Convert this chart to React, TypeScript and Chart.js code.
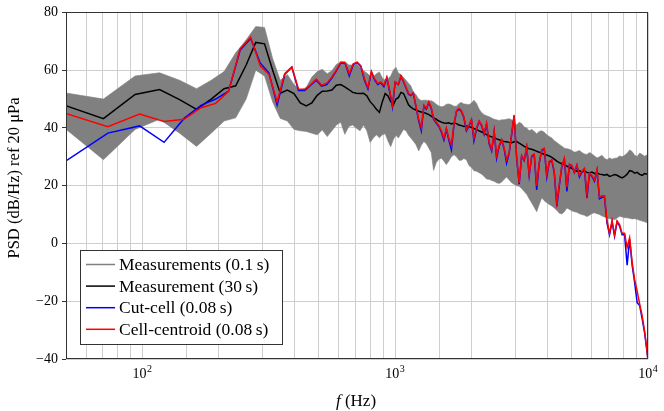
import { useEffect, useRef } from 'react'
import Chart from 'chart.js/auto'

// PSD spectrum: measurement band (0.1 s), 30 s measurement, cut-cell and cell-centroid runs

// measurement bins (Hz), below 1 kHz
const freqMeasLow = [
  46.9, 70.3, 93.8, 117.2, 140.6, 164.1, 187.5, 210.9, 234.4, 257.8,
  281.3, 304.7, 328.1, 351.6, 375.0, 398.4, 421.9, 445.3, 468.8, 492.2,
  515.6, 539.1, 562.5, 585.9, 609.4, 632.8, 656.3, 679.7, 703.1, 726.6,
  750.0, 773.4, 796.9, 820.3, 843.8, 867.2, 890.6, 914.1, 937.5, 960.9,
  984.4, 1007.8,
]
// simulation bins (Hz), below 1 kHz
const freqSimLow = [
  48.8, 73.2, 97.7, 122.1, 146.5, 170.9, 195.3, 219.7, 244.1, 268.6,
  293.0, 317.4, 341.8, 366.2, 390.6, 415.0, 439.5, 463.9, 488.3, 512.7,
  537.1, 561.5, 585.9, 610.4, 634.8, 659.2, 683.6, 708.0, 732.4, 756.8,
  781.3, 805.7, 830.1, 854.5, 878.9, 903.3, 927.7, 952.1, 976.6, 1001.0,
]
// shared bins above 1 kHz
const freqHigh = [
  1030, 1055, 1080, 1105, 1130, 1155, 1180, 1210, 1240, 1270,
  1300, 1330, 1360, 1390, 1420, 1455, 1490, 1525, 1560, 1595,
  1630, 1670, 1710, 1750, 1790, 1830, 1870, 1915, 1960, 2005,
  2050, 2100, 2150, 2200, 2250, 2300, 2355, 2410, 2465, 2520,
  2580, 2640, 2700, 2760, 2825, 2890, 2955, 3025, 3095, 3165,
  3240, 3315, 3390, 3470, 3550, 3630, 3715, 3800, 3890, 3980,
  4070, 4165, 4260, 4360, 4460, 4565, 4670, 4780, 4890, 5000,
  5115, 5235, 5355, 5480, 5605, 5735, 5870, 6005, 6145, 6285,
  6430, 6580, 6730, 6885, 7045, 7210, 7375, 7545, 7720, 7900,
  8080, 8270, 8460, 8655, 8855, 9060, 9270, 9480, 9700, 9925,
  10000,
]

// Measurements (0.1 s) — upper / lower envelope
const bandHiLow = [
  52.5, 50.0, 58.0, 59.1, 56.5, 53.6, 56.5, 59.5, 66.0, 70.5,
  75.1, 74.8, 64.0, 56.5, 58.5, 55.0, 53.1, 54.0, 57.6, 59.5,
  60.3, 58.8, 59.8, 62.0, 62.8, 63.0, 61.8, 61.8, 62.2, 61.0,
  59.8, 59.0, 58.0, 57.6, 58.8, 59.4, 57.3, 56.5, 57.0, 58.0,
  60.0, 61.0,
]
const bandHiHigh = [
  59.0, 58.5, 57.5, 56.5, 55.5, 54.5, 52.5, 51.5, 50.0, 49.5,
  49.6, 49.6, 49.3, 49.4, 49.0, 48.2, 47.6, 47.3, 47.5, 48.2,
  48.3, 48.0, 47.5, 47.5, 48.5, 48.8, 48.3, 48.2, 48.0, 48.6,
  49.6, 48.5, 46.5, 45.3, 44.6, 44.2, 43.9, 43.4, 43.0, 42.8,
  42.6, 42.8, 42.8, 43.0, 43.2, 42.8, 42.0, 41.0, 42.0, 41.5,
  40.3, 40.0, 39.0, 39.5, 38.8, 38.0, 38.8, 39.0, 38.5, 37.6,
  37.0, 36.5, 35.6, 35.0, 34.3, 33.7, 33.0, 32.8, 32.6, 32.2,
  31.6, 31.8, 32.2, 31.5, 31.0, 30.8, 31.5, 31.0, 30.3, 29.6,
  30.0, 30.5, 29.5, 29.0, 29.6, 29.2, 29.5, 29.6, 30.3, 30.0,
  30.5, 31.2, 32.4, 31.8, 30.5, 30.1, 31.3, 30.8, 30.2, 30.7,
  30.7,
]
const bandLoLow = [
  41.5, 29.0, 39.5, 43.0, 38.2, 33.6, 38.2, 42.4, 43.5, 50.0,
  60.0, 58.0, 49.0, 43.3, 42.4, 39.5, 39.0, 38.8, 38.2, 37.6,
  39.3, 37.0, 39.0, 41.0, 42.0, 37.8, 40.5, 41.0, 39.9, 39.0,
  41.0, 39.0, 35.0, 36.5, 37.6, 36.6, 37.6, 38.0, 35.5, 33.5,
  36.0, 37.5,
]
const bandLoHigh = [
  36.5, 38.0, 39.5, 39.0, 37.5, 36.5, 35.5, 34.2, 32.0, 34.0,
  35.3, 34.5, 33.0, 31.5, 25.3, 28.0, 29.2, 29.5, 28.5, 27.3,
  28.5, 30.0, 30.7, 30.0, 28.8, 28.8, 29.4, 29.0, 27.0, 26.3,
  25.2, 25.0, 24.5, 24.0, 23.2, 22.3, 22.2, 21.8, 21.5, 21.0,
  20.8, 21.3, 22.2, 23.0, 22.0, 21.0, 20.5, 20.0, 19.8, 19.0,
  18.0, 17.0, 15.5, 14.0, 12.5, 11.0, 13.5, 15.8, 14.8, 14.1,
  13.5, 13.0, 12.3, 11.5, 10.5, 10.2, 11.0, 12.3, 11.8, 11.3,
  11.0, 10.8, 10.3, 10.0, 9.8, 9.3, 9.8, 10.4, 10.6, 10.3,
  10.0, 9.5, 9.2, 8.9, 8.6, 8.4, 8.2, 8.8, 9.4, 9.2,
  8.9, 8.9, 8.7, 8.5, 8.6, 8.4, 8.0, 7.8, 7.5, 7.2,
  7.2,
]

// Measurement (30 s)
const meas30Low = [
  48.5, 43.2, 51.6, 53.3, 49.8, 46.4, 50.0, 53.6, 54.6, 61.8,
  69.6, 69.1, 60.0, 52.0, 53.1, 51.9, 48.7, 47.6, 48.7, 51.3,
  52.7, 52.8, 53.1, 54.8, 55.0, 54.2, 53.3, 52.3, 52.0, 51.9,
  52.0, 51.1, 49.1, 47.9, 46.5, 45.4, 49.1, 51.9, 51.1, 49.1,
  47.9, 50.0,
]
const meas30High = [
  50.5, 52.3, 51.9, 50.0, 48.0, 47.2, 46.6, 46.2, 45.8, 45.5,
  45.3, 45.0, 44.6, 44.1, 43.5, 43.0, 42.4, 42.0, 41.7, 41.6,
  41.8, 41.4, 41.7, 41.5, 41.0, 40.8, 40.5, 40.7, 40.4, 40.2,
  39.8, 39.4, 39.0, 38.6, 38.1, 37.7, 37.2, 36.9, 36.6, 36.2,
  35.9, 35.5, 35.3, 35.2, 35.0, 34.9, 35.2, 35.3, 34.7, 34.2,
  33.6, 33.2, 32.8, 32.6, 32.3, 31.9, 31.6, 31.3, 30.8, 30.6,
  30.3, 29.8, 29.2, 28.5, 28.0, 27.6, 27.2, 26.8, 26.3, 26.0,
  25.5, 25.0, 25.2, 24.8, 25.1, 24.6, 24.4, 24.7, 24.2, 24.5,
  24.0, 23.9, 23.6, 23.9, 23.2, 23.5, 23.9, 23.6, 23.1, 22.7,
  23.2, 24.0, 25.2, 25.0, 24.3, 24.6, 23.9, 23.6, 24.2, 24.0,
  24.3,
]

// Cut-cell (0.08 s)
const cutCellLow = [
  28.0, 38.2, 40.7, 35.0, 43.3, 47.8, 50.0, 52.7, 67.0, 71.0,
  62.5, 59.0, 48.0, 58.5, 61.0, 53.0, 53.0, 54.8, 56.5, 54.5,
  55.0, 57.2, 59.8, 62.5, 62.3, 58.0, 62.0, 62.6, 61.3, 56.5,
  53.5, 59.3, 56.6, 55.0, 55.6, 54.3, 57.3, 52.5, 47.3, 55.8,
]
const cutCellHigh = [
  55.0, 57.8, 56.0, 53.8, 51.7, 51.2, 52.0, 47.3, 42.5, 39.0,
  47.6, 46.5, 48.8, 46.7, 43.0, 41.7, 40.5, 38.5, 35.8, 39.6,
  36.0, 32.5, 41.2, 45.7, 46.5, 45.7, 43.6, 39.0, 40.7, 42.7,
  35.5, 39.7, 42.2, 40.7, 37.8, 41.3, 34.5, 32.0, 38.7, 29.5,
  33.7, 35.7, 32.7, 27.8, 31.2, 37.7, 44.2, 29.5, 20.5, 30.2,
  28.7, 33.2, 23.5, 30.2, 30.7, 18.5, 27.7, 32.2, 32.7, 23.0,
  28.2, 28.7, 24.5, 12.8, 20.0, 26.7, 29.2, 18.0, 27.2, 26.7,
  24.5, 26.9, 23.0, 24.7, 25.7, 15.8, 24.2, 23.2, 21.5, 25.3,
  15.5, 16.0, 16.0, 7.0, 3.0, 7.5, 2.5, 7.5, 6.0, 3.0,
  3.0, -7.5, 1.5, -7.5, -13.5, -20.5, -21.5, -26.0, -31.0, -38.0,
  -40.5,
]

// Cell-centroid (0.08 s)
const centroidLow = [
  45.3, 40.4, 44.8, 42.2, 43.0, 47.0, 48.5, 52.7, 67.4, 71.4,
  61.5, 58.5, 49.1, 58.8, 61.1, 53.5, 53.3, 55.0, 56.9, 54.8,
  55.5, 57.5, 60.0, 62.8, 62.5, 58.8, 62.2, 62.8, 61.5, 57.0,
  54.0, 59.6, 57.0, 55.4, 55.9, 54.8, 57.6, 53.0, 48.0, 56.0,
]
const centroidHigh = [
  55.0, 58.0, 56.2, 54.0, 51.9, 51.4, 52.2, 47.5, 43.0, 40.0,
  47.9, 46.8, 49.1, 47.0, 43.3, 42.0, 40.8, 39.0, 36.4, 39.9,
  36.5, 34.0, 41.5, 46.0, 46.8, 46.0, 43.9, 39.5, 41.0, 43.0,
  36.4, 40.0, 42.5, 41.0, 38.2, 41.6, 35.0, 32.5, 39.0, 30.5,
  34.0, 36.0, 33.0, 29.0, 31.5, 38.0, 44.5, 30.0, 21.0, 30.5,
  29.0, 33.5, 24.0, 30.5, 31.0, 20.0, 28.0, 32.5, 33.0, 24.0,
  28.5, 29.0, 25.0, 14.0, 20.5, 27.0, 29.5, 19.5, 27.5, 27.0,
  24.8, 27.2, 23.5, 25.0, 26.0, 17.2, 24.5, 23.5, 22.0, 25.6,
  16.0, 16.5, 16.5, 8.0, 3.5, 8.0, 3.0, 7.8, 6.5, 3.5,
  3.5, -1.4, 2.0, -6.5, -12.5, -16.5, -21.0, -25.0, -30.5, -37.5,
  -40.5,
]

const legendLabels = ['Measurements (0.1\u2009s)', 'Measurement (30\u2009s)', 'Cut-cell (0.08\u2009s)', 'Cell-centroid (0.08\u2009s)']
const legendColors = ['#808080', '#000000', '#0000ff', '#ff0000']
const xDecades = [2, 3, 4]

const SERIF = '"Liberation Serif", "Times New Roman", serif'

const toXY = (xs: number[], ys: number[]) => xs.map((x, i) => ({ x, y: ys[i] }))

export default function App() {
  const canvasRef = useRef<HTMLCanvasElement>(null)
  const chartRef  = useRef<Chart | null>(null)

  useEffect(() => {
    if (!canvasRef.current) return
    chartRef.current?.destroy()

    const freqMeas = [...freqMeasLow, ...freqHigh]
    const freqSim  = [...freqSimLow, ...freqHigh]

    // frame, log tick labels (10^n), axis titles, legend box
    const decorations = {
      id: 'decorations',
      afterDraw(c: any) {
        const { ctx, chartArea: a } = c
        const x = c.scales.x
        ctx.save()
        ctx.strokeStyle = '#333'; ctx.lineWidth = 1
        ctx.strokeRect(Math.round(a.left) + 0.5, Math.round(a.top) + 0.5, Math.round(a.right - a.left) - 1, Math.round(a.bottom - a.top) - 1)

        ctx.fillStyle = '#000'
        ctx.textBaseline = 'alphabetic'; ctx.textAlign = 'left'
        for (const e of xDecades) {
          const px = x.getPixelForValue(10 ** e)
          ctx.font = `14px ${SERIF}`
          const wb = ctx.measureText('10').width
          ctx.font = `10px ${SERIF}`
          const we = ctx.measureText(String(e)).width
          const x0 = px - (wb + we + 0.5) / 2
          ctx.font = `14px ${SERIF}`; ctx.fillText('10', x0, 378)
          ctx.font = `10px ${SERIF}`;  ctx.fillText(String(e), x0 + wb + 0.5, 371.5)
        }

        // x title: italic f + (Hz)
        ctx.font = `italic 17px ${SERIF}`
        const wf = ctx.measureText('f').width
        ctx.font = `17px ${SERIF}`
        const wr = ctx.measureText(' (Hz)').width
        const xs = 356 - (wf + wr) / 2
        ctx.font = `italic 17px ${SERIF}`; ctx.fillText('f', xs, 406)
        ctx.font = `17px ${SERIF}`; ctx.fillText(' (Hz)', xs + wf, 406)

        // y title
        ctx.save()
        ctx.translate(19, 178); ctx.rotate(-Math.PI / 2)
        ctx.textAlign = 'center'; ctx.font = `16.5px ${SERIF}`
        ctx.fillText('PSD (dB/Hz) ref 20 μPa', 0, 0)
        ctx.restore()

        // legend
        ctx.fillStyle = '#fff'
        ctx.fillRect(80.5, 250.5, 202, 94)
        ctx.strokeStyle = '#333'; ctx.lineWidth = 1
        ctx.strokeRect(80.5, 250.5, 202, 94)
        ctx.font = `17.5px ${SERIF}`; ctx.textBaseline = 'middle'; ctx.textAlign = 'left'
        legendLabels.forEach((label, i) => {
          const yc = 264.5 + i * 21.6
          ctx.beginPath(); ctx.moveTo(86, yc); ctx.lineTo(115, yc)
          ctx.strokeStyle = legendColors[i]; ctx.lineWidth = 1.5; ctx.stroke()
          ctx.fillStyle = '#000'; ctx.fillText(label, 119, yc + 1)
        })
        ctx.restore()
      },
    }

    const line = (label: string, data: any[], color: string, order: number) => ({
      label, data, borderColor: color, borderWidth: 1.5, pointRadius: 0,
      tension: 0, fill: false, order, clip: 0,
    })

    chartRef.current = new Chart(canvasRef.current, {
      type: 'line',
      data: {
        datasets: [
          {
            label: 'band hi', data: toXY(freqMeas, [...bandHiLow, ...bandHiHigh]),
            borderColor: '#808080', borderWidth: 0.6, backgroundColor: '#808080',
            pointRadius: 0, tension: 0, fill: '+1', order: 3, clip: 0,
          },
          {
            label: 'band lo', data: toXY(freqMeas, [...bandLoLow, ...bandLoHigh]),
            borderColor: '#808080', borderWidth: 0.6, pointRadius: 0, tension: 0, fill: false, order: 3, clip: 0,
          },
          line('Measurement (30 s)', toXY(freqMeas, [...meas30Low, ...meas30High]), '#000000', 2),
          line('Cut-cell (0.08 s)', toXY(freqSim, [...cutCellLow, ...cutCellHigh]), '#0000ff', 1),
          line('Cell-centroid (0.08 s)', toXY(freqSim, [...centroidLow, ...centroidHigh]), '#ff0000', 0),
        ] as any,
      },
      options: {
        animation: false,
        responsive: true, maintainAspectRatio: false,
        events: [],
        layout: { padding: { top: 10, right: 16, left: 0, bottom: 0 } },
        plugins: { legend: { display: false }, tooltip: { enabled: false } },
        scales: {
          x: {
            type: 'logarithmic', min: 50, max: 10000,
            grid: { color: '#cfcfcf', lineWidth: 1, drawTicks: false },
            border: { display: false },
            ticks: { display: false },
            afterFit: (s: any) => { s.height = 52 },
          },
          y: {
            min: -40, max: 80,
            grid: { color: '#cfcfcf', lineWidth: 1, drawTicks: true, tickLength: 4, tickColor: '#333' },
            border: { display: false },
            ticks: {
              stepSize: 20, padding: 4, color: '#000',
              font: { family: SERIF, size: 14 },
              callback: (v: any) => (v < 0 ? `\u2212${Math.abs(v)}` : String(v)),
            },
            afterFit: (s: any) => { s.width = 66 },
          },
        },
      } as any,
      plugins: [decorations],
    })

    return () => { chartRef.current?.destroy(); chartRef.current = null }
  }, [])

  return (
    <div style={{ position: 'absolute', left: 0, top: 0, width: 664, height: 411, background: '#fff' }}>
      <canvas ref={canvasRef} />
    </div>
  )
}
